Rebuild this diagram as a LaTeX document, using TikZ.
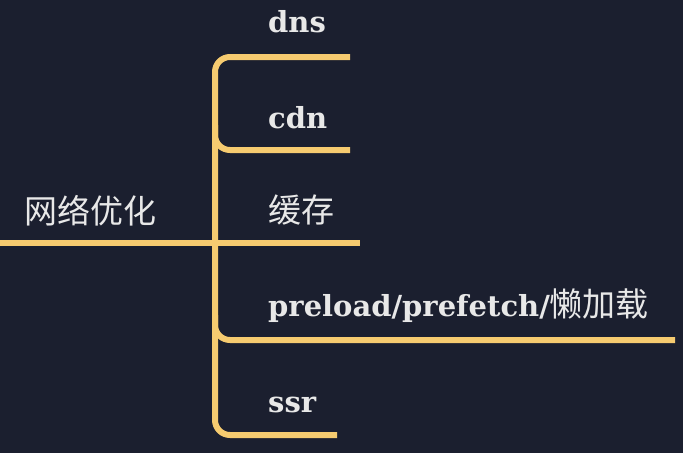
\documentclass[tikz,border=0pt]{standalone}
\usepackage{fontspec}
\setmainfont{DejaVu Serif}
\newfontfamily\cjk{Noto Sans CJK SC}
\newcommand\cj[1]{{\cjk\mdseries\fontsize{33}{35}\selectfont #1}}
\definecolor{bgc}{RGB}{27,31,47}
\definecolor{gold}{RGB}{246,203,112}
\definecolor{txt}{RGB}{232,232,232}
\begin{document}
\begin{tikzpicture}[x=1pt,y=-1pt,
  branch/.style={draw=gold,line width=6pt,rounded corners=15pt},
  lbl/.style={anchor=base west,inner sep=0pt,text=txt,font=\bfseries\fontsize{29}{32}\selectfont}]
\fill[bgc] (0,0) rectangle (683,453);
\useasboundingbox (0,0) rectangle (683,453);
% coordinates
\coordinate (rootstart) at (0,243);
\coordinate (tTop) at (215,57);
\coordinate (tBot) at (215,435);
\coordinate (e1) at (350,57);
\coordinate (j2a) at (215,125);
\coordinate (j2) at (215,150);
\coordinate (e2) at (350,150);
\coordinate (e3) at (360,243);
\coordinate (j4a) at (215,315);
\coordinate (j4) at (215,340);
\coordinate (e4) at (675,340);
\coordinate (e5) at (337,435);
% texts
\node[lbl] (root) at (24,223) {\cj{网络优化}};
\node[lbl] (n1) at (268,32) {dns};
\node[lbl] (n2) at (268,128) {cdn};
\node[lbl] (n3) at (268,222) {\cj{缓存}};
\node[lbl] (n4) at (268,316) {preload/prefetch/\cj{懒加载}};
\node[lbl] (n5) at (268,412) {ssr};
% lines
\draw[branch] (e1) -- (tTop) -- (tBot) -- (e5);
\draw[branch] (j2a) -- (j2) -- (e2);
\draw[branch] (j4a) -- (j4) -- (e4);
\draw[draw=gold,line width=6pt] (rootstart) -- (e3);
\end{tikzpicture}
\end{document}
